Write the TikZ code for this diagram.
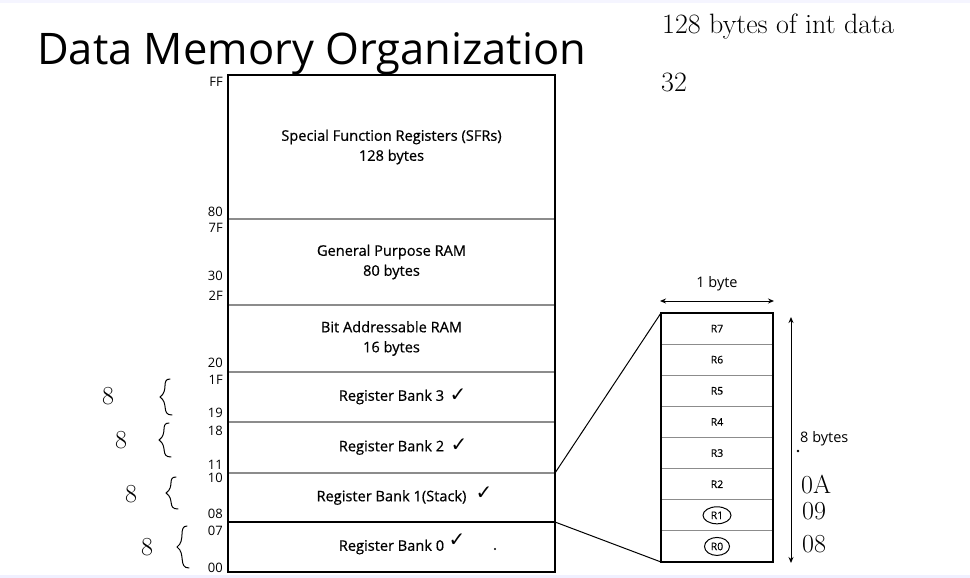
\documentclass[tikz,border=0pt]{standalone}
\usepackage{fontspec}
\newfontfamily\os{Open Sans}
\newfontfamily\osb{Open Sans}[FakeBold=0.6]
\newfontfamily\djfont{DejaVu Sans}
\usetikzlibrary{arrows.meta,positioning}
\begin{document}
\begin{tikzpicture}[x=1pt,y=-1pt,
  addr/.style={font=\os\fontsize{13}{14}\selectfont, anchor=east, inner sep=0},
  sec/.style={minimum width=327pt, inner sep=0, outer sep=0, font=\osb\fontsize{14.6}{20}\selectfont, align=center},
  reg/.style={minimum width=112pt, minimum height=31.125pt, inner sep=0, outer sep=0, font=\osb\fontsize{10.5}{11}\selectfont},
  sepline/.style={draw=black!45, line width=1.2pt},
  frame/.style={draw=black, line width=1.8pt},
  hand/.style={font=\fontsize{26}{28}\selectfont, inner sep=0},
  chk/.style={font=\djfont\fontsize{20}{20}\selectfont, inner sep=0},
  dim/.style={font=\os\fontsize{14.5}{15}\selectfont, inner sep=0},
  handline/.style={line width=1pt, line cap=round}
]
\useasboundingbox (0,0) rectangle (970,578);
\fill[white] (0,0) rectangle (970,578);
\fill[blue!4] (0,0) rectangle (970,3);
\fill[blue!6] (0,575) rectangle (970,578);

% title
\node[anchor=base west, font=\os\fontsize{43.5}{45}\selectfont, inner sep=0] (title) at (37,65) {Data Memory Organization};

% memory map sections
\node[sec, minimum height=144pt] (sfr) at (391.5,147) {Special Function Registers (SFRs)\\128 bytes};
\node[sec, minimum height=86pt] (gp) at (391.5,262) {General Purpose RAM\\80 bytes};
\node[sec, minimum height=67pt] (ba) at (391.5,338.5) {Bit Addressable RAM\\16 bytes};
\node[sec, minimum height=50pt] (rb3) at (391.5,397) {Register Bank 3};
\node[sec, minimum height=51pt] (rb2) at (391.5,447.5) {Register Bank 2};
\node[sec, minimum height=49pt] (rb1) at (391.5,497.5) {Register Bank 1(Stack)};
\node[sec, minimum height=50pt] (rb0) at (391.5,547) {Register Bank 0};

\draw[sepline] (sfr.south west) -- (sfr.south east);
\draw[sepline] (gp.south west) -- (gp.south east);
\draw[sepline] (ba.south west) -- (ba.south east);
\draw[sepline] (rb3.south west) -- (rb3.south east);
\draw[sepline] (rb2.south west) -- (rb2.south east);
\draw[frame] (rb1.south west) -- (rb1.south east);
\draw[frame] (sfr.north west) rectangle (rb0.south east);

% addresses
\node[addr] (aFF) at (223,82) {FF};
\node[addr] (a80) at (223,212) {80};
\node[addr] (a7F) at (223,228) {7F};
\node[addr] (a30) at (223,276) {30};
\node[addr] (a2F) at (223,296) {2F};
\node[addr] (a20) at (223,363) {20};
\node[addr] (a1F) at (223,380) {1F};
\node[addr] (a19) at (223,413) {19};
\node[addr] (a18) at (223,431) {18};
\node[addr] (a11) at (223,465) {11};
\node[addr] (a10) at (223,478) {10};
\node[addr] (a08) at (223,514) {08};
\node[addr] (a07) at (223,531) {07};
\node[addr] (a00) at (223,568) {00};

% check marks
\node[chk] (c3) at (458,395) {✓};
\node[chk] (c2) at (459,445) {✓};
\node[chk] (c1) at (484,493) {✓};
\node[chk] (c0) at (457,540) {✓};
\fill (495,549) circle (1.1);

% zoomed register bank
\node[reg] (r7) at (717,328.56) {R7};
\node[reg, below=0pt of r7] (r6) {R6};
\node[reg, below=0pt of r6] (r5) {R5};
\node[reg, below=0pt of r5] (r4) {R4};
\node[reg, below=0pt of r4] (r3) {R3};
\node[reg, below=0pt of r3] (r2) {R2};
\node[reg, below=0pt of r2] (r1) {R1};
\node[reg, below=0pt of r1] (r0) {R0};
\foreach \n in {r7,r6,r5,r4,r3,r2,r1}
  \draw[draw=black!45, line width=1pt] (\n.south west) -- (\n.south east);
\draw[frame] (r7.north west) rectangle (r0.south east);

% zoom connectors
\draw[line width=1pt] (rb1.north east) -- (r7.north west);
\draw[line width=1pt] (rb1.south east) -- (r0.south west);

% dimension arrows
\coordinate (wl) at (660,301);
\coordinate (wr) at (774,301);
\draw[line width=1pt, {Stealth[length=6pt,width=5pt]}-{Stealth[length=6pt,width=5pt]}] (wl) -- (wr);
\node[dim] (w1) at (717,284) {1 byte};
\coordinate (ht) at (791,317);
\coordinate (hb) at (791,563);
\draw[line width=1pt, {Stealth[length=6pt,width=5pt]}-{Stealth[length=6pt,width=5pt]}] (ht) -- (hb);
\node[dim, anchor=west] (h8) at (800,439) {8 bytes};
\fill (798,451) circle (1.3);

% handwritten notes
\node[hand, anchor=west, font=\fontsize{28}{30}\selectfont] (n1) at (662,27) {128 bytes of int data};
\node[hand, anchor=west, font=\fontsize{28}{30}\selectfont] (n2) at (661,82) {32};
\node[hand] (e3) at (108,396) {8};
\node[hand] (e2) at (121,440) {8};
\node[hand] (e1) at (131,494) {8};
\node[hand] (e0) at (147,547) {8};
\node[hand, anchor=west] (m0a) at (801,485) {0A};
\node[hand, anchor=west] (m09) at (802,511) {09};
\node[hand, anchor=west] (m08) at (802,544) {08};

% braces
\foreach \cx/\cy/\h in {164/397/36, 163/440/34, 170/493/32, 181/547/42}{
  \draw[handline] (\cx+6,\cy-\h/2) .. controls (\cx-3,\cy-\h/2) and (\cx+5,\cy-6) .. (\cx-4,\cy)
     .. controls (\cx+5,\cy+6) and (\cx-3,\cy+\h/2) .. (\cx+8,\cy+\h/2);
}

% circles around R1 and R0
\draw[handline] (r1.center) ellipse (14 and 8.5);
\draw[handline] (r0.center) ellipse (12.5 and 9);
\end{tikzpicture}
\end{document}
